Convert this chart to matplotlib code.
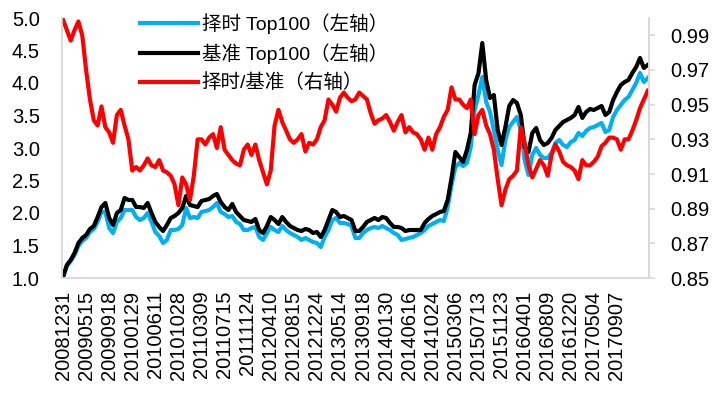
import numpy as np
import matplotlib
matplotlib.use("Agg")
import matplotlib.pyplot as plt

plt.rcParams['font.family'] = ['Liberation Sans', 'Noto Sans CJK SC', 'DejaVu Sans']

# one sample every 15 trading days, starting 2008-12-31
step = 15

timing_top100 = [
    1.015, 1.185, 1.262, 1.354, 1.492, 1.569, 1.615, 1.708, 1.754, 1.862,
    2.015, 2.015, 1.769, 1.692, 1.862, 1.923, 2.046, 2.046, 2.046, 1.938,
    1.892, 1.923, 2.000, 1.862, 1.708, 1.646, 1.538, 1.585, 1.738, 1.738,
    1.754, 1.815, 2.077, 1.923, 1.938, 1.923, 2.015, 2.031, 2.046, 2.092,
    2.154, 2.015, 1.985, 1.938, 1.954, 1.862, 1.831, 1.738, 1.738, 1.769,
    1.785, 1.631, 1.585, 1.692, 1.785, 1.738, 1.708, 1.800, 1.738, 1.692,
    1.662, 1.631, 1.585, 1.615, 1.585, 1.554, 1.538, 1.477, 1.631, 1.738,
    1.892, 1.923, 1.846, 1.846, 1.831, 1.800, 1.615, 1.615, 1.692, 1.738,
    1.769, 1.785, 1.769, 1.800, 1.769, 1.738, 1.692, 1.662, 1.585, 1.600,
    1.615, 1.631, 1.662, 1.692, 1.738, 1.800, 1.831, 1.862, 1.892, 1.877,
    2.092, 2.431, 2.708, 2.769, 2.723, 2.769, 3.015, 3.585, 3.815, 4.092,
    3.708, 3.554, 3.277, 2.969, 2.738, 3.123, 3.323, 3.400, 3.477, 3.277,
    2.815, 2.585, 2.892, 3.000, 2.892, 2.846, 2.846, 2.923, 3.077, 3.123,
    3.046, 3.015, 3.092, 3.123, 3.231, 3.185, 3.262, 3.308, 3.323, 3.354,
    3.385, 3.246, 3.277, 3.477, 3.585, 3.662, 3.738, 3.785, 3.892, 4.000,
    4.154, 4.015, 4.077,
]

bench_top100 = [
    1.015, 1.200, 1.277, 1.385, 1.538, 1.615, 1.662, 1.754, 1.800, 1.938,
    2.092, 2.154, 1.923, 1.815, 2.000, 2.046, 2.231, 2.200, 2.200, 2.092,
    2.092, 2.077, 2.154, 2.000, 1.862, 1.785, 1.723, 1.815, 1.923, 1.954,
    2.000, 2.077, 2.262, 2.123, 2.108, 2.092, 2.185, 2.200, 2.215, 2.262,
    2.292, 2.169, 2.092, 2.046, 2.138, 2.015, 1.954, 1.892, 1.877, 1.862,
    1.908, 1.738, 1.692, 1.800, 1.938, 1.892, 1.831, 1.938, 1.862, 1.800,
    1.769, 1.738, 1.723, 1.754, 1.738, 1.692, 1.708, 1.631, 1.738, 1.892,
    2.046, 2.015, 1.938, 1.954, 1.923, 1.892, 1.723, 1.723, 1.785, 1.862,
    1.892, 1.923, 1.892, 1.938, 1.923, 1.846, 1.785, 1.785, 1.769, 1.723,
    1.738, 1.738, 1.738, 1.738, 1.846, 1.908, 1.954, 1.985, 2.015, 2.031,
    2.200, 2.538, 2.938, 2.862, 2.785, 2.969, 3.231, 3.969, 4.150, 4.615,
    4.046, 3.769, 3.815, 3.277, 3.046, 3.323, 3.646, 3.738, 3.692, 3.508,
    3.015, 2.938, 3.231, 3.308, 3.123, 3.046, 3.077, 3.154, 3.277, 3.338,
    3.400, 3.431, 3.462, 3.508, 3.631, 3.462, 3.554, 3.600, 3.585, 3.615,
    3.646, 3.508, 3.554, 3.738, 3.862, 3.969, 4.015, 4.046, 4.154, 4.246,
    4.385, 4.231, 4.277,
]

ratio = [
    0.999, 0.993, 0.987, 0.993, 0.998, 0.990, 0.970, 0.953, 0.941, 0.938,
    0.949, 0.937, 0.934, 0.928, 0.944, 0.947, 0.938, 0.930, 0.912, 0.914,
    0.912, 0.915, 0.919, 0.915, 0.914, 0.918, 0.912, 0.911, 0.909, 0.904,
    0.892, 0.908, 0.904, 0.895, 0.909, 0.930, 0.930, 0.927, 0.931, 0.933,
    0.925, 0.937, 0.924, 0.921, 0.918, 0.916, 0.915, 0.924, 0.927, 0.921,
    0.927, 0.918, 0.911, 0.904, 0.912, 0.938, 0.947, 0.940, 0.935, 0.930,
    0.928, 0.930, 0.933, 0.923, 0.928, 0.927, 0.930, 0.937, 0.941, 0.953,
    0.950, 0.946, 0.954, 0.957, 0.954, 0.952, 0.953, 0.957, 0.955, 0.953,
    0.945, 0.939, 0.941, 0.942, 0.944, 0.940, 0.935, 0.940, 0.944, 0.934,
    0.937, 0.934, 0.933, 0.930, 0.924, 0.931, 0.924, 0.933, 0.937, 0.943,
    0.947, 0.960, 0.953, 0.953, 0.950, 0.948, 0.953, 0.933, 0.944, 0.947,
    0.938, 0.933, 0.924, 0.907, 0.892, 0.901, 0.907, 0.909, 0.912, 0.937,
    0.928, 0.915, 0.908, 0.913, 0.918, 0.915, 0.909, 0.921, 0.927, 0.923,
    0.917, 0.915, 0.914, 0.912, 0.907, 0.918, 0.915, 0.915, 0.917, 0.920,
    0.926, 0.928, 0.931, 0.931, 0.930, 0.924, 0.930, 0.930, 0.935, 0.941,
    0.948, 0.953, 0.958,
]

tick_dates = [
    '20081231', '20090515', '20090918', '20100129', '20100611', '20101028',
    '20110309', '20110715', '20111124', '20120410', '20120815', '20121224',
    '20130514', '20130918', '20140130', '20140616', '20141024', '20150306',
    '20150713', '20151123', '20160401', '20160809', '20161220', '20170504',
    '20170907',
]
tick_every = 90  # trading days between labels

labels = ['择时 Top100（左轴）', '基准 Top100（左轴）', '择时/基准（右轴）']

x = np.arange(len(ratio)) * step
spine_c = '#d9d9d9'

fig = plt.figure(figsize=(7.17, 3.96), dpi=100)
ax = fig.add_axes([62 / 717, 1 - 278 / 396, 587 / 717, 260 / 396])
ax2 = ax.twinx()

l1, = ax.plot(x, timing_top100, color='#00b0f0', lw=3.0, label=labels[0])
l2, = ax.plot(x, bench_top100, color='black', lw=3.0, label=labels[1])
l3, = ax2.plot(x, ratio, color='#ff0000', lw=3.0, label=labels[2])

ax.set_ylim(1.0, 5.0)
ax.set_yticks(np.arange(1.0, 5.01, 0.5))
ax.set_yticklabels([f'{v:.1f}' for v in np.arange(1.0, 5.01, 0.5)])
ax2.set_ylim(0.85, 1.0)
ax2.set_yticks(np.arange(0.85, 0.995, 0.02))
ax2.set_yticklabels([f'{v:.2f}' for v in np.arange(0.85, 0.995, 0.02)])

ax.set_xlim(-4, len(ratio) * step - 10)
ax.set_xticks(np.arange(len(tick_dates)) * tick_every)
ax.set_xticklabels(tick_dates, rotation=90)

for a in (ax, ax2):
    for s in a.spines.values():
        s.set_color(spine_c)
        s.set_linewidth(1.2)
    a.spines['top'].set_visible(False)

ax.tick_params(axis='y', length=0, pad=16, labelsize=14.5)
ax.tick_params(axis='x', length=0, pad=9, labelsize=14.5)
ax2.tick_params(axis='y', length=4, width=1.2, color=spine_c, pad=11, labelsize=14.5)

fig.legend(handles=[l1, l2, l3], loc='upper left', bbox_to_anchor=(122 / 717, 1.012),
           frameon=False, fontsize=14, handlelength=3.0, handletextpad=0.2,
           labelspacing=0.5)

fig.savefig('out.png', dpi=100)
